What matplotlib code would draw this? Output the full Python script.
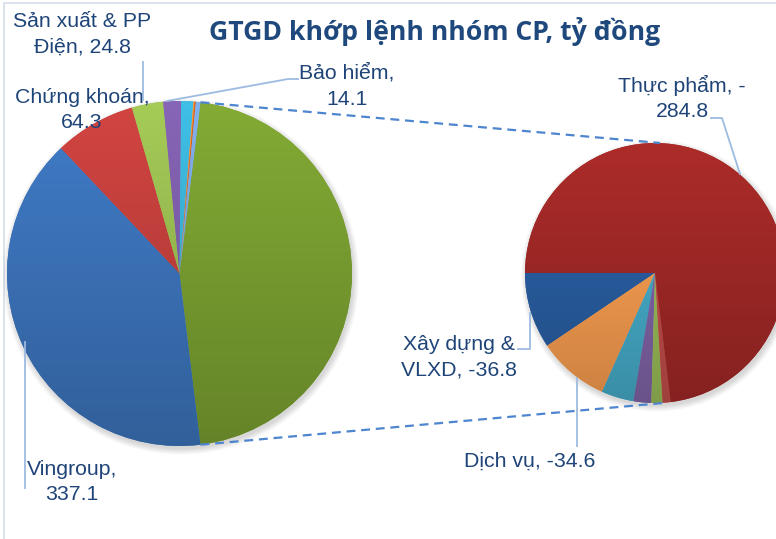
import numpy as np
import matplotlib
matplotlib.use("Agg")
import matplotlib.pyplot as plt
import matplotlib.colors as mcolors
from matplotlib.patches import Circle

# ---------------- data ----------------
title = "GTGD khớp lệnh nhóm CP, tỷ đồng"

# second (small) pie: negative-value groups
right_names = ["Xây dựng &\nVLXD", "Dịch vụ", "Nhóm 5", "Nhóm 6", "Nhóm 7", "Nhóm 8", "Thực phẩm"]
right_values = [-36.8, -34.6, -15.7, -8.6, -5.4, -3.9, -284.8]
right_colors = ["#285C9E", "#F39A4E", "#45A9C6", "#7E62A4", "#97B956", "#BE4C49", "#9E2826"]

# first (main) pie; the "other" slice is the total of the second pie
left_names = ["Vingroup", "Chứng khoán", "Sản xuất & PP\nĐiện", "Bảo hiểm", "Nhóm A", "Nhóm B", "Nhóm C", "Nhóm D"]
left_values = [337.1, 64.3, 24.8, 14.1, 9.6, 0.9, 1.0, 3.6]
left_colors = ["#3B72B8", "#C13F3C", "#98BB50", "#7C5DA8", "#3AB0D4", "#F48C33", "#C65E1C", "#78A2DC"]
other_color = "#789D30"

W, H = 776, 539
fig = plt.figure(figsize=(W / 100, H / 100), dpi=100)
ax = fig.add_axes([0, 0, 1, 1])

def Y(y):
    return H - y

label_color = "#1F4478"
leader_color = "#9DBBE0"
lab_font = dict(family=["Liberation Sans", "DejaVu Sans"], fontsize=15.3, color=label_color)
LS = 1.45

def shadow(cx, cy, r):
    for k in range(8):
        ax.add_patch(Circle((cx + 1.5, cy - 3), r + 0.8 * k, color="black", alpha=0.02, lw=0, zorder=1))

def grad(wedges, colors, cx, cy, r):
    t = np.linspace(0, 1, 256)[:, None]
    f = 1.09 - 0.25 * t
    for w, c in zip(wedges, colors):
        rgb = np.array(mcolors.to_rgb(c))
        img = np.clip(rgb[None, :] * f, 0, 1)[:, None, :]
        im = ax.imshow(img, extent=(cx - r, cx + r, cy - r, cy + r), origin="upper",
                       aspect="auto", interpolation="bilinear", zorder=3)
        im.set_clip_path(w)

# ---------------- left pie ----------------
lcx, lcy, lr = 179.5, Y(273.5), 172.5
other_val = sum(abs(v) for v in right_values)
lvals = [other_val] + left_values
lcols = [other_color] + left_colors
start = 360 * other_val / sum(lvals) / 2
shadow(lcx, lcy, lr)
lw_, _ = ax.pie(lvals, colors=lcols, startangle=start, counterclock=False,
                center=(lcx, lcy), radius=lr, wedgeprops=dict(lw=0, zorder=2))
grad(lw_, lcols, lcx, lcy, lr)

# ---------------- right pie ----------------
rcx, rcy, rr = 655, Y(273), 130
rvals = [abs(v) for v in right_values]
shadow(rcx, rcy, rr)
rw_, _ = ax.pie(rvals, colors=right_colors, startangle=180, counterclock=True,
                center=(rcx, rcy), radius=rr, wedgeprops=dict(lw=0, zorder=2))
grad(rw_, right_colors, rcx, rcy, rr)

# ---------------- connector lines (edges of the "other" slice) ----------------
a = np.deg2rad(start)
ax.plot([lcx + lr * np.cos(a), rcx + 5], [lcy + lr * np.sin(a), rcy + rr], ls=(0, (4, 2.6)),
        color="#4E85CF", lw=1.6, zorder=4)
ax.plot([lcx + lr * np.cos(-a), rcx + 8], [lcy + lr * np.sin(-a), rcy - rr], ls=(0, (4, 2.6)),
        color="#4E85CF", lw=1.6, zorder=4)

# ---------------- frame ----------------
ax.plot([4, 4, W + 5], [-5, Y(3), Y(3)], color="#D5DDE8", lw=1.2, zorder=0)

# ---------------- title ----------------
ax.text(435, Y(40), title, ha="center", va="baseline", fontsize=19.2, fontweight="bold",
        color="#1F497D", family=["Open Sans", "DejaVu Sans"])

# ---------------- labels ----------------
def fmt(name, v, sep=", "):
    return f"{name}{sep}{v:g}"

ax.text(82, Y(34), fmt(left_names[2], left_values[2]), ha="center", va="center", linespacing=LS, **lab_font)
ax.text(82, Y(110), fmt(left_names[1], left_values[1], ",\n"), ha="center", va="center", linespacing=LS, **lab_font)
ax.text(347, Y(86), fmt(left_names[3], left_values[3], ",\n"), ha="center", va="center", linespacing=LS, **lab_font)
ax.text(72, Y(482), fmt(left_names[0], left_values[0], ",\n"), ha="center", va="center", linespacing=LS, **lab_font)
tp = fmt(right_names[6], right_values[6]).replace(", -", ", -\n")
ax.text(682, Y(98), tp, ha="center", va="center", linespacing=LS, **lab_font)
ax.text(459, Y(357), fmt(right_names[0], right_values[0]), ha="center", va="center", linespacing=LS, **lab_font)
ax.text(530, Y(461), fmt(right_names[1], right_values[1]), ha="center", va="center", **lab_font)

# leader lines
lk = dict(color=leader_color, lw=1.3, zorder=5)
ax.plot([143, 143], [Y(62), Y(100)], **lk)
ax.plot([298, 288, 167], [Y(79), Y(79), Y(101)], **lk)
ax.plot([711, 722, 740], [Y(118), Y(118), Y(174)], **lk)
ax.plot([518, 530, 530], [Y(349), Y(349), Y(313)], **lk)
ax.plot([577, 577], [Y(446), Y(378)], **lk)
ax.plot([25, 25], [Y(488), Y(342)], **lk)

ax.set_xlim(0, W)
ax.set_ylim(0, H)
ax.set_aspect("auto")
ax.axis("off")
fig.savefig("out.png", dpi=100)
